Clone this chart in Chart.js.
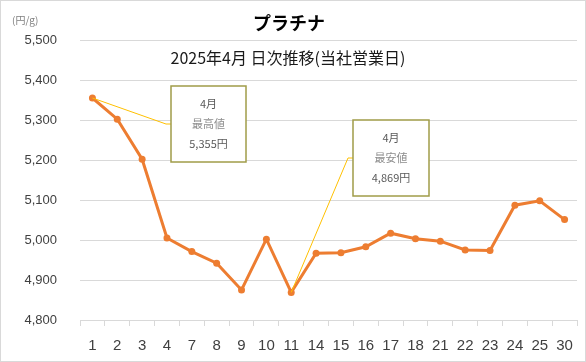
<!DOCTYPE html>
<html>
<head>
<meta charset="utf-8">
<script src="https://cdn.jsdelivr.net/npm/chart.js"></script>
<style>
    html, body { margin: 0; padding: 0; background: #fff; }
    #wrap { width: 586px; height: 362px; }
</style>
</head>
<body>
<div id="wrap"><canvas id="chart" width="586" height="362"></canvas></div>
<script>
// 営業日 (April 2025)
const days = ['1', '2', '3', '4', '7', '8', '9', '10', '11', '14', '15', '16', '17', '18', '21', '22', '23', '24', '25', '30'];
// 円/g
const prices = [5355, 5302, 5202, 5005, 4971, 4942, 4875, 5002, 4869, 4967, 4968, 4983, 5017, 5003, 4997, 4975, 4974, 5087, 5098, 5051];
const yMin = 4800;
const yMax = 5500;
const yStep = 100;

const titleText = 'プラチナ';
const subtitleText = '2025年4月 日次推移(当社営業日)';
const unitText = '(円/g)';
const highNote = ['4月', '最高値', '5,355円'];
const lowNote = ['4月', '最安値', '4,869円'];

const jpFont = "'Noto Sans CJK JP', 'Noto Sans', sans-serif";
const numFont = "'Liberation Sans', Arial, sans-serif";

const fmt = v => v.toLocaleString('en-US');

// Draw a note box with a yellow leader line from a data point
function drawNote(ctx, px, py, box, elbow, lines) {
    ctx.save();
    ctx.strokeStyle = '#ffc000';
    ctx.lineWidth = 1;
    ctx.beginPath();
    ctx.moveTo(px, py);
    ctx.lineTo(elbow.x, elbow.y);
    ctx.lineTo(box.x, elbow.y);
    ctx.stroke();

    ctx.fillStyle = '#ffffff';
    ctx.fillRect(box.x, box.y, box.w, box.h);
    ctx.strokeStyle = '#a09c48';
    ctx.lineWidth = 1.5;
    ctx.strokeRect(box.x, box.y, box.w, box.h);

    ctx.textAlign = 'center';
    ctx.textBaseline = 'middle';
    ctx.font = '11px ' + jpFont;
    const cx = box.x + box.w / 2;
    const colors = ['#595959', '#8c8c8c', '#595959'];
    lines.forEach((t, i) => {
        ctx.fillStyle = colors[i];
        ctx.fillText(t, cx, box.y + 18 + i * 20);
    });
    ctx.restore();
}

const overlay = {
    id: 'overlay',
    afterDatasetsDraw(chart) {
        const ctx = chart.ctx;
        const xs = chart.scales.x;
        const ys = chart.scales.y;
        const hi = prices.indexOf(Math.max(...prices));
        const lo = prices.indexOf(Math.min(...prices));

        drawNote(ctx, xs.getPixelForValue(hi), ys.getPixelForValue(prices[hi]),
            { x: 171, y: 86, w: 75, h: 76 }, { x: 166, y: 124 }, highNote);
        drawNote(ctx, xs.getPixelForValue(lo), ys.getPixelForValue(prices[lo]),
            { x: 353, y: 120, w: 76, h: 76 }, { x: 348, y: 158 }, lowNote);
    },
    afterDraw(chart) {
        const ctx = chart.ctx;
        ctx.save();
        // outer frame
        ctx.strokeStyle = '#d9d9d9';
        ctx.lineWidth = 1;
        ctx.strokeRect(0.5, 0.5, chart.width - 1, chart.height - 1);

        ctx.textAlign = 'center';
        ctx.textBaseline = 'middle';
        ctx.fillStyle = '#000000';
        ctx.font = 'bold 18px ' + jpFont;
        ctx.fillText(titleText, 289, 23);
        ctx.font = '16px ' + jpFont;
        ctx.fillStyle = '#1a1a1a';
        ctx.fillText(subtitleText, 288, 58);

        ctx.textAlign = 'left';
        ctx.font = '10px ' + jpFont;
        ctx.fillStyle = '#7f7f7f';
        ctx.fillText(unitText, 12, 20);
        ctx.restore();
    }
};

new Chart(document.getElementById('chart'), {
    type: 'line',
    data: {
        labels: days,
        datasets: [{
            data: prices,
            borderColor: '#ed7d31',
            backgroundColor: '#ed7d31',
            borderWidth: 3,
            pointRadius: 3.5,
            pointBorderWidth: 0,
            pointBackgroundColor: '#ed7d31',
            tension: 0
        }]
    },
    options: {
        responsive: false,
        animation: false,
        devicePixelRatio: 1,
        layout: {
            padding: { top: 40, right: 9, bottom: 0, left: 0 }
        },
        plugins: {
            legend: { display: false },
            title: { display: false },
            tooltip: { enabled: false }
        },
        scales: {
            x: {
                offset: true,
                afterFit(scale) { scale.height = 42; },
                grid: {
                    offset: true,
                    drawOnChartArea: false,
                    color: '#d9d9d9',
                    tickLength: 6
                },
                border: { color: '#d9d9d9' },
                ticks: {
                    color: '#404040',
                    font: { family: numFont, size: 15, lineHeight: 1 },
                    padding: 12,
                    maxRotation: 0,
                    autoSkip: false
                }
            },
            y: {
                min: yMin,
                max: yMax,
                afterFit(scale) { scale.width = 80; },
                grid: {
                    color: '#d9d9d9',
                    drawTicks: false,
                    tickLength: 0
                },
                border: { display: false },
                ticks: {
                    stepSize: yStep,
                    color: '#404040',
                    font: { family: numFont, size: 13 },
                    padding: 23,
                    callback: v => fmt(v)
                }
            }
        }
    },
    plugins: [overlay]
});
</script>
</body>
</html>
